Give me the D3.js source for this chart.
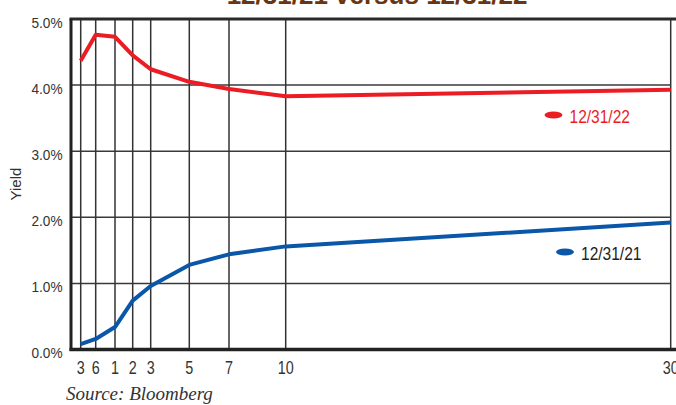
<!DOCTYPE html>
<html><head><meta charset="utf-8">
<script src="https://cdn.jsdelivr.net/npm/d3@7"></script>
<style>
html,body{margin:0;padding:0;background:#fff;overflow:hidden;}
svg{display:block;}
.nar{font-family:"Liberation Sans",Arial,Helvetica,sans-serif;}
</style></head>
<body>
<script>
// Data
const maturities = [0.25, 0.5, 1, 2, 3, 5, 7, 10, 30];
const tickLabels = ["3", "6", "1", "2", "3", "5", "7", "10", "30"];
const yields2021 = [0.08, 0.16, 0.34, 0.74, 0.96, 1.28, 1.44, 1.56, 1.92];
const yields2022 = [4.37, 4.76, 4.73, 4.45, 4.24, 4.05, 3.94, 3.83, 3.93];
const yTicks = [0, 1, 2, 3, 4, 5];
const seriesNames = ["12/31/22", "12/31/21"];
const titleText = "12/31/21 versus 12/31/22";

(function () {
const W = 676, H = 405;
const svg = d3.select("body").append("svg").attr("width", W).attr("height", H);

const pLeft = 71, pRight = 670.5, pTop = 19, pBottom = 349.5;
// piecewise scale: short end of the curve is spread out
const x = d3.scaleLinear()
  .domain(maturities)
  .range([80.7, 95.7, 115, 132.7, 150.7, 189.3, 229, 285.7, 670.7]);
const y = d3.scaleLinear().domain([0, 5]).range([pBottom, pTop]);

// condensed text helper
function ctext(sel, tx, ty, sx) {
  return sel.attr("class", "nar").attr("transform", `translate(${tx},${ty}) scale(${sx},1)`);
}

// title (cut off at top)
svg.append("text").attr("x", 377).attr("y", 4).attr("text-anchor", "middle")
  .attr("font-family", "Liberation Sans, Arial, sans-serif").attr("font-weight", "bold")
  .attr("font-size", 26).attr("fill", "#6a3512").text(titleText);

const g = svg.append("g");

// horizontal gridlines
g.selectAll(".hg").data(yTicks.filter(d => d > 0 && d < 5)).enter().append("line")
  .attr("x1", pLeft).attr("x2", pRight).attr("y1", d => y(d)).attr("y2", d => y(d))
  .attr("stroke", "#3a3a3a").attr("stroke-width", 1.5);

// vertical gridlines
g.selectAll(".vg").data(maturities).enter().append("line")
  .attr("x1", d => x(d)).attr("x2", d => x(d)).attr("y1", pTop).attr("y2", pBottom)
  .attr("stroke", "#333").attr("stroke-width", 1.5);

// frame: top, left, bottom axes
g.append("line").attr("x1", pLeft - 1.5).attr("x2", W).attr("y1", pTop).attr("y2", pTop)
  .attr("stroke", "#2a2a2a").attr("stroke-width", 3);
g.append("line").attr("x1", pLeft).attr("x2", pLeft).attr("y1", pTop).attr("y2", pBottom + 1.5)
  .attr("stroke", "#222").attr("stroke-width", 3);
g.append("line").attr("x1", pLeft - 1.5).attr("x2", W).attr("y1", pBottom).attr("y2", pBottom)
  .attr("stroke", "#222").attr("stroke-width", 3.5);

// y tick labels
svg.selectAll(".yl").data(yTicks).enter().append("text")
  .each(function (d) { ctext(d3.select(this), 62.5, y(d) + 8.5, 0.88); })
  .attr("text-anchor", "end").attr("font-size", 15.5).attr("fill", "#333")
  .text(d => d.toFixed(1) + "%");

// x tick labels
svg.selectAll(".xl").data(maturities).enter().append("text")
  .each(function (d) { ctext(d3.select(this), x(d), 373.5, 0.82); })
  .attr("text-anchor", "middle").attr("font-size", 17.5).attr("fill", "#333")
  .text((d, i) => tickLabels[i]);

// y axis title
svg.append("text").attr("class", "nar")
  .attr("transform", "translate(21,184) rotate(-90)").attr("text-anchor", "middle")
  .attr("font-size", 15).attr("fill", "#333").text("Yield");

// lines
const line = d3.line().x((d, i) => x(maturities[i])).y(d => y(d));
svg.append("path").datum(yields2022).attr("d", line).attr("fill", "none")
  .attr("stroke", "#ec1c24").attr("stroke-width", 4).attr("stroke-linejoin", "round");
svg.append("path").datum(yields2021).attr("d", line).attr("fill", "none")
  .attr("stroke", "#0a56a8").attr("stroke-width", 4).attr("stroke-linejoin", "round");

// legends
const legends = [
  {name: seriesNames[0], color: "#ec1c24", text: "#ec1c24", cx: 553.5, cy: 115},
  {name: seriesNames[1], color: "#0a56a8", text: "#222", cx: 565, cy: 252}
];
legends.forEach(l => {
  svg.append("ellipse").attr("cx", l.cx).attr("cy", l.cy).attr("rx", 9).attr("ry", 3.5).attr("fill", l.color);
  ctext(svg.append("text"), l.cx + 16, l.cy + 8, 0.84)
    .attr("font-size", 18.5).attr("fill", l.text).text(l.name);
});

// source
svg.append("text").attr("x", 66).attr("y", 400)
  .attr("font-family", "Liberation Serif, Times New Roman, serif").attr("font-style", "italic")
  .attr("font-size", 19).attr("fill", "#333").text("Source: Bloomberg");
})();
</script>
</body></html>
